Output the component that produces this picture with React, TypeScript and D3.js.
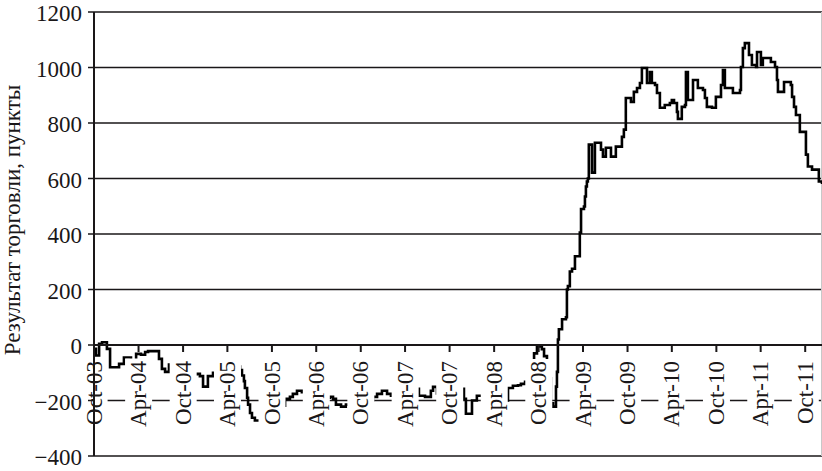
import { useEffect, useRef } from "react";
import * as d3 from "d3";

const startDate = new Date(2003, 9, 1);
const endDate = new Date(2011, 11, 9);

// day offsets (from 1 Oct 2003) where the cumulative result steps to a new level
const stepDays = [
  0, 8, 21, 33, 53, 66, 103, 123, 152, 173, 193, 210, 222, 267, 279, 292, 308, 320, 345, 378,
  423, 435, 448, 468, 489, 509, 559, 583, 600, 608, 616, 620, 629, 633, 641, 649, 661, 702, 723, 756,
  776, 785, 805, 817, 834, 854, 871, 904, 969, 982, 994, 1015, 1035, 1052, 1113, 1146, 1163, 1183, 1204, 1220,
  1237, 1323, 1335, 1360, 1384, 1393, 1409, 1425, 1499, 1512, 1520, 1528, 1553, 1573, 1598, 1697, 1701, 1721, 1742, 1754,
  1771, 1791, 1808, 1820, 1840, 1849, 1861, 1869, 1877, 1886, 1898, 1902, 1906, 1910, 1923, 1939, 1943, 1947, 1955, 1964,
  1976, 1996, 2001, 2013, 2017, 2021, 2025, 2029, 2033, 2046, 2058, 2083, 2091, 2103, 2124, 2144, 2169, 2177, 2185, 2206,
  2218, 2231, 2243, 2251, 2272, 2284, 2292, 2305, 2313, 2325, 2345, 2366, 2374, 2383, 2395, 2399, 2415, 2428, 2432, 2440,
  2461, 2481, 2502, 2510, 2518, 2539, 2555, 2576, 2584, 2592, 2625, 2654, 2658, 2666, 2674, 2691, 2703, 2720, 2724, 2740,
  2748, 2781, 2798, 2806, 2810, 2835, 2863, 2868, 2876, 2884, 2900, 2925, 2933, 2950, 2978, 2991,
];

const stepValues = [
  -14, -38, 4, 10, -14, -80, -68, -45, -57, -32, -35, -25, -22, -50, -86, -97, -70, -78, -90, -105,
  -104, -112, -150, -112, -100, -95, -85, -78, -90, -110, -130, -155, -190, -215, -245, -262, -272, -268, -255, -235,
  -219, -194, -187, -176, -165, -170, -185, -190, -187, -194, -215, -222, -215, -210, -200, -187, -176, -165, -176, -183,
  -194, -158, -183, -187, -165, -151, -175, -185, -170, -158, -194, -248, -200, -183, -176, -200, -155, -147, -145, -140,
  -133, -130, -30, -5, -15, -40, -60, -120, -210, -222, -150, -97, 20, 57, 93, 100, 200, 212, 265, 275,
  320, 405, 490, 499, 535, 571, 589, 600, 722, 621, 729, 704, 679, 711, 679, 715, 750, 776, 890, 876,
  912, 926, 944, 998, 944, 984, 944, 937, 908, 855, 865, 872, 883, 872, 840, 815, 858, 865, 984, 883,
  955, 926, 919, 890, 858, 855, 894, 937, 991, 926, 908, 919, 1002, 1070, 1088, 1045, 1009, 1002, 1056, 1009,
  1034, 1020, 1002, 955, 912, 948, 937, 894, 858, 829, 768, 686, 643, 632, 589, 580,
];

const yTicks = [-400, -200, 0, 200, 400, 600, 800, 1000, 1200];
const tickLabels = [
  "Oct-03", "Apr-04", "Oct-04", "Apr-05", "Oct-05", "Apr-06", "Oct-06", "Apr-07", "Oct-07",
  "Apr-08", "Oct-08", "Apr-09", "Oct-09", "Apr-10", "Oct-10", "Apr-11", "Oct-11",
];
const yTitle = "Результат торговли, пункты";

type Point = { date: Date; value: number };

export default function App() {
  const svgRef = useRef<SVGSVGElement>(null);

  useEffect(() => {
    if (!svgRef.current) return;
    const width = 822;
    const height = 471;
    const margin = { top: 12, right: 0, bottom: 15, left: 94 };
    const font = "'Liberation Serif', 'Times New Roman', serif";
    const ink = "#1a1718";

    const svg = d3.select(svgRef.current).attr("width", width).attr("height", height);
    svg.selectAll("*").remove();

    const x = d3.scaleTime().domain([startDate, endDate]).range([margin.left, width - margin.right]);
    const y = d3.scaleLinear().domain([-400, 1200]).range([height - margin.bottom, margin.top]);

    // Gridlines
    svg
      .append("g")
      .selectAll("line")
      .data(yTicks.filter((v) => v !== 0))
      .join("line")
      .attr("x1", margin.left)
      .attr("x2", width)
      .attr("y1", (d) => y(d))
      .attr("y2", (d) => y(d))
      .attr("stroke", ink)
      .attr("stroke-width", 1.5);

    // faint right border
    svg
      .append("line")
      .attr("x1", width - 0.5)
      .attr("x2", width - 0.5)
      .attr("y1", y(1200))
      .attr("y2", y(-400))
      .attr("stroke", "#c8c8c8")
      .attr("stroke-width", 1);

    // Series
    const points: Point[] = stepDays.map((d, i) => ({
      date: d3.timeDay.offset(startDate, d),
      value: stepValues[i],
    }));
    const line = d3
      .line<Point>()
      .x((d) => x(d.date))
      .y((d) => y(d.value))
      .curve(d3.curveStepAfter);

    svg
      .append("path")
      .datum(points)
      .attr("d", line)
      .attr("fill", "none")
      .attr("stroke", "#000")
      .attr("stroke-width", 2.6);

    // Category labels with white backing (they hide the grid and the line)
    const tickDates = d3.timeMonth.range(startDate, endDate, 6);
    const labels = svg.append("g");
    tickDates.forEach((dt, i) => {
      const g = labels
        .append("g")
        .attr("transform", `translate(${x(dt)},${y(0) + 16}) rotate(-90)`);
      const t = g
        .append("text")
        .attr("text-anchor", "end")
        .attr("dy", "0.33em")
        .attr("font-family", font)
        .attr("font-size", 23)
        .attr("fill", ink)
        .text(tickLabels[i]);
      const bb = (t.node() as SVGTextElement).getBBox();
      g.insert("rect", "text")
        .attr("x", bb.x - 2)
        .attr("y", bb.y - 1)
        .attr("width", bb.width + 4)
        .attr("height", bb.height + 2)
        .attr("fill", "#fff");
    });

    // Y axis
    svg
      .append("line")
      .attr("x1", margin.left)
      .attr("x2", margin.left)
      .attr("y1", y(1200))
      .attr("y2", y(-400))
      .attr("stroke", ink)
      .attr("stroke-width", 2);

    svg
      .append("g")
      .selectAll("line")
      .data(yTicks)
      .join("line")
      .attr("x1", margin.left - 6)
      .attr("x2", margin.left)
      .attr("y1", (d) => y(d))
      .attr("y2", (d) => y(d))
      .attr("stroke", ink)
      .attr("stroke-width", 1.5);

    svg
      .append("g")
      .selectAll("text")
      .data(yTicks)
      .join("text")
      .attr("x", margin.left - 12)
      .attr("y", (d) => y(d))
      .attr("dy", "0.4em")
      .attr("text-anchor", "end")
      .attr("font-family", font)
      .attr("font-size", 23)
      .attr("fill", ink)
      .text((d) => (d < 0 ? `\u2212${Math.abs(d)}` : `${d}`));

    // X axis at zero
    svg
      .append("line")
      .attr("x1", margin.left)
      .attr("x2", width)
      .attr("y1", y(0))
      .attr("y2", y(0))
      .attr("stroke", ink)
      .attr("stroke-width", 2);

    svg
      .append("g")
      .selectAll("line")
      .data(tickDates)
      .join("line")
      .attr("x1", (d) => x(d))
      .attr("x2", (d) => x(d))
      .attr("y1", y(0))
      .attr("y2", y(0) + 7)
      .attr("stroke", ink)
      .attr("stroke-width", 2);

    // Axis title
    svg
      .append("text")
      .attr("transform", `translate(20,220) rotate(-90)`)
      .attr("text-anchor", "middle")
      .attr("font-family", font)
      .attr("font-size", 23)
      .attr("fill", ink)
      .text(yTitle);
  }, []);

  return (
    <svg
      ref={svgRef}
      style={{ position: "absolute", left: 0, top: 0, display: "block", background: "#fff" }}
    />
  );
}
